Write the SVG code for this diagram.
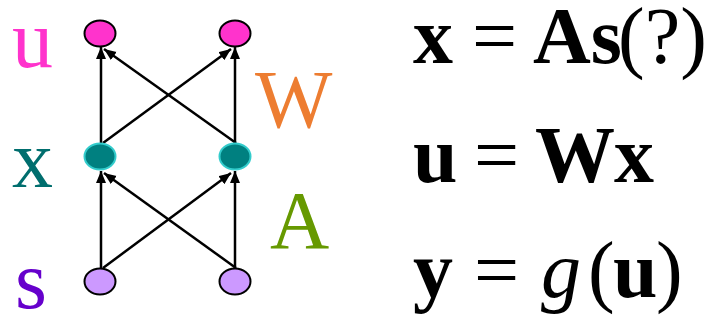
<svg xmlns="http://www.w3.org/2000/svg" width="715" height="320" viewBox="0 0 715 320">
<style>
.lbl{font-family:"Liberation Serif","Times New Roman",serif;font-size:82px}
.eq{font-family:"Liberation Serif","Times New Roman",serif;font-size:80px;fill:#000}
.b{font-weight:bold}
.i{font-style:italic}
.edge{stroke:#000;stroke-width:2.5;fill:none;marker-end:url(#ah)}
.nu{fill:#ff33cc;stroke:#000;stroke-width:2}
.nx{fill:#008080;stroke:#33cccc;stroke-width:2}
.ns{fill:#cc99ff;stroke:#000;stroke-width:2}
</style>
<defs>
<marker id="ah" markerUnits="userSpaceOnUse" markerWidth="12" markerHeight="12" refX="12" refY="5" orient="auto">
<path d="M0,0 L12,5 L0,10 z" fill="#000"/>
</marker>
</defs>
<rect width="715" height="320" fill="#fff"/>
<g id="connectors">
<line class="edge" x1="101" y1="143" x2="101" y2="47"/>
<line class="edge" x1="235" y1="143" x2="235" y2="47"/>
<line class="edge" x1="103" y1="143" x2="231" y2="49"/>
<line class="edge" x1="236" y1="143" x2="104" y2="49"/>
<line class="edge" x1="101" y1="268" x2="101" y2="171"/>
<line class="edge" x1="235" y1="268" x2="235" y2="171"/>
<line class="edge" x1="103" y1="268" x2="231" y2="173"/>
<line class="edge" x1="236" y1="268" x2="104" y2="173"/>
</g>
<g id="u1"><ellipse class="nu" cx="100" cy="33.5" rx="15.5" ry="13"/></g>
<g id="u2"><ellipse class="nu" cx="235" cy="33.5" rx="15.5" ry="13"/></g>
<g id="x1"><ellipse class="nx" cx="100" cy="156.5" rx="15.5" ry="13"/></g>
<g id="x2"><ellipse class="nx" cx="235" cy="156.5" rx="15.5" ry="13"/></g>
<g id="s1"><ellipse class="ns" cx="100" cy="281.5" rx="15.5" ry="13"/></g>
<g id="s2"><ellipse class="ns" cx="235" cy="281.5" rx="15.5" ry="13"/></g>
<g id="labels">
<text class="lbl" x="12" y="67" fill="#ff33cc">u</text>
<text class="lbl" x="12" y="187" fill="#006e6e">x</text>
<text class="lbl" x="15" y="308" fill="#6600cc">s</text>
<text class="lbl" x="255" y="127" fill="#ed7d31">W</text>
<text class="lbl" x="270" y="248" fill="#669900">A</text>
</g>
<g id="equations">
<text class="eq" y="63"><tspan class="b" x="413">x</tspan><tspan x="472">=</tspan><tspan class="b" x="533">As</tspan><tspan x="618">(?)</tspan></text>
<text class="eq" y="182"><tspan class="b" x="413">u</tspan><tspan x="474">=</tspan><tspan class="b" x="535">W</tspan><tspan class="b" x="614">x</tspan></text>
<text class="eq" y="297"><tspan class="b" x="413">y</tspan><tspan x="474">=</tspan><tspan class="i" x="541">g</tspan><tspan x="588">(</tspan><tspan class="b" x="613">u</tspan><tspan x="656">)</tspan></text>
</g>
</svg>
